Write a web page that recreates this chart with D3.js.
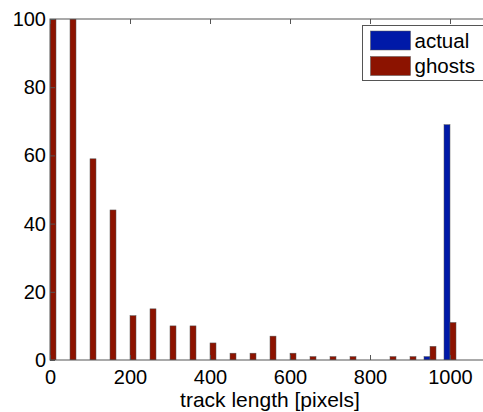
<!DOCTYPE html>
<html>
<head>
<meta charset="utf-8">
<script src="https://cdn.jsdelivr.net/npm/d3@7"></script>
<style>
  body { margin: 0; background: #fff; }
  svg { display: block; font-family: "Liberation Sans", Arial, sans-serif; }
</style>
</head>
<body>
<svg id="chart" width="483" height="412"></svg>
<script>
// bin centres of the histogram
let bins = [0, 50, 100, 150, 200, 250, 300, 350, 400, 450, 500,
            550, 600, 650, 700, 750, 800, 850, 900, 950, 1000];
let actual = [0, 0, 0, 0, 0, 0, 0, 0, 0, 0, 0,
              0, 0, 0, 0, 0, 0, 0, 0, 1, 69];
let ghosts = [100, 100, 59, 44, 13, 15, 10, 10, 5, 2, 2,
              7, 2, 1, 1, 1, 0, 1, 1, 4, 11];
let xTicks = [0, 200, 400, 600, 800, 1000];
let yTicks = [0, 20, 40, 60, 80, 100];
let seriesNames = ["actual", "ghosts"];
let seriesColors = ["#0019a8", "#8c1300"];

let margin = {top: 19, right: -7, bottom: 52, left: 50},
    width = 483 - margin.left - margin.right,
    height = 412 - margin.top - margin.bottom;

let svg = d3.select("#chart");
let g = svg.append("g")
    .attr("transform", "translate(" + margin.left + "," + margin.top + ")");

let x = d3.scaleLinear().domain([0, 1100]).range([0, width]);
let y = d3.scaleLinear().domain([0, 100]).range([height, 0]);

let barW = x(15) - x(0);

let defs = svg.append("defs");
defs.append("clipPath").attr("id", "plot")
    .append("rect").attr("width", width).attr("height", height);

let plot = g.append("g").attr("clip-path", "url(#plot)");

[actual, ghosts].forEach(function (vals, si) {
    plot.selectAll(".s" + si)
        .data(bins.map(function (b, i) { return {b: b, v: vals[i]}; }))
        .enter().append("rect")
        .attr("class", "s" + si)
        .attr("x", function (d) { return x(d.b) + (si === 0 ? -barW : 0); })
        .attr("y", function (d) { return y(d.v); })
        .attr("width", barW)
        .attr("height", function (d) { return height - y(d.v); })
        .style("fill", seriesColors[si])
        .style("stroke", "#555")
        .style("stroke-width", 0.5)
        .style("display", function (d) { return d.v > 0 ? null : "none"; });
});

// box
g.append("rect")
    .attr("width", width).attr("height", height)
    .style("fill", "none").style("stroke", "#555").style("stroke-width", 1);

let xAxis = d3.axisBottom(x).tickValues(xTicks).tickSize(-5).tickPadding(10).tickFormat(d3.format("d"));
let xTop = d3.axisTop(x).tickValues(xTicks).tickSize(-5).tickFormat("");
let yAxis = d3.axisLeft(y).tickValues(yTicks).tickSize(-5).tickPadding(10);

function styleAxis(sel) {
    sel.select(".domain").remove();
    sel.selectAll(".tick line").style("stroke", "#555");
    sel.selectAll(".tick text").style("font-size", "20px").style("fill", "#000");
}

g.append("g").attr("transform", "translate(0," + height + ")").call(xAxis).call(styleAxis)
    .selectAll(".tick text").attr("dy", "0.7em");
g.append("g").call(xTop).call(styleAxis);
g.append("g").call(yAxis).call(styleAxis)
    .selectAll(".tick text").attr("dx", "6px");

g.append("text")
    .attr("x", width / 2)
    .attr("y", height + 47)
    .attr("text-anchor", "middle")
    .style("font-size", "21px")
    .text("track length [pixels]");

// legend
let legend = svg.append("g").attr("transform", "translate(362.5,25.5)");
legend.append("rect")
    .attr("width", 121).attr("height", 55)
    .style("fill", "#fff").style("stroke", "#555");
seriesNames.forEach(function (name, i) {
    legend.append("rect")
        .attr("x", 8).attr("y", 5.5 + i * 25.5)
        .attr("width", 40).attr("height", 19)
        .style("fill", seriesColors[i]).style("stroke", "#555").style("stroke-width", 0.5);
    legend.append("text")
        .attr("x", 52).attr("y", 22 + i * 25.5)
        .style("font-size", "20.5px")
        .text(name);
});
</script>
</body>
</html>
